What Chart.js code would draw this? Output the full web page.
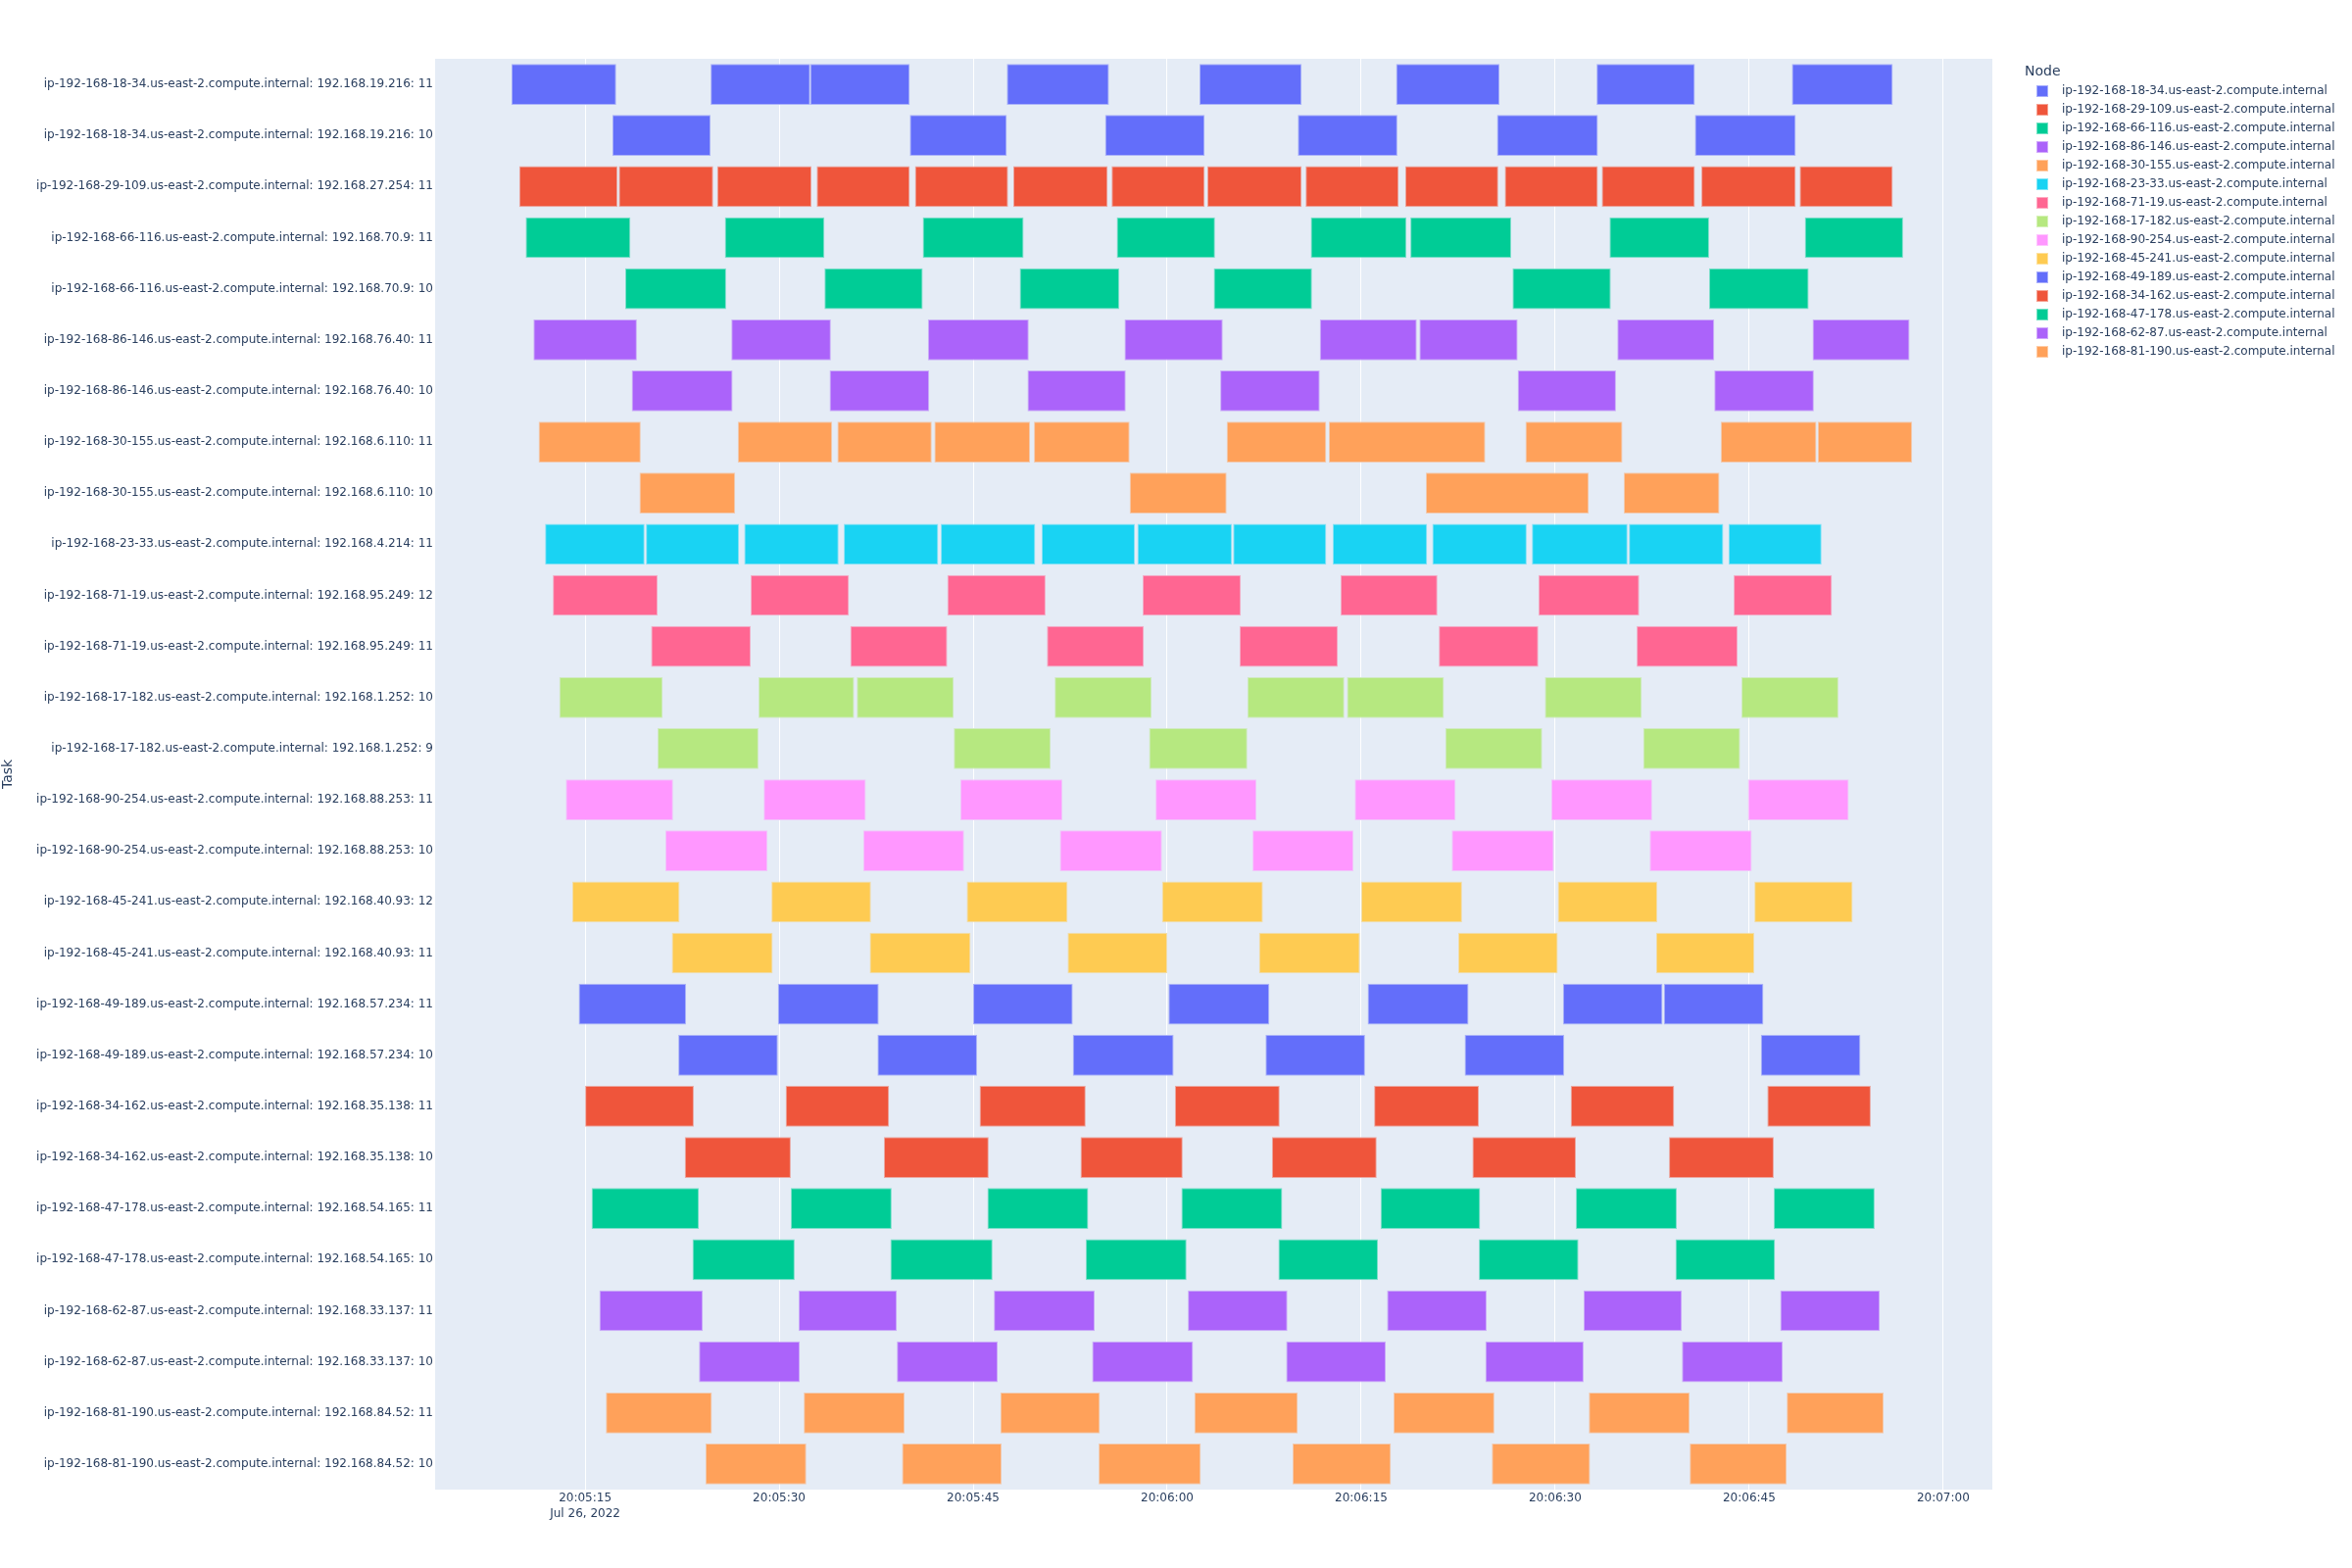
<!DOCTYPE html>
<html>
<head>
<meta charset="utf-8">
<script src="https://cdn.jsdelivr.net/npm/chart.js@4.4.1/dist/chart.umd.min.js"></script>
<style>
  html, body { margin: 0; padding: 0; background: #ffffff; }
  #wrap { width: 2400px; height: 1600px; }
</style>
</head>
<body>
<div id="wrap"><canvas id="c" width="2400" height="1600"></canvas></div>
<script>
// ---------------- data ----------------
const dateLabel = 'Jul 26, 2022';
const legendTitle = 'Node';
const yTitle = 'Task';
const xRange = ['20:05:03.4', '20:07:03.8'];
const tickLabels = ['20:05:15', '20:05:30', '20:05:45', '20:06:00', '20:06:15', '20:06:30', '20:06:45', '20:07:00'];

const nodes = [
  'ip-192-168-18-34.us-east-2.compute.internal',
  'ip-192-168-29-109.us-east-2.compute.internal',
  'ip-192-168-66-116.us-east-2.compute.internal',
  'ip-192-168-86-146.us-east-2.compute.internal',
  'ip-192-168-30-155.us-east-2.compute.internal',
  'ip-192-168-23-33.us-east-2.compute.internal',
  'ip-192-168-71-19.us-east-2.compute.internal',
  'ip-192-168-17-182.us-east-2.compute.internal',
  'ip-192-168-90-254.us-east-2.compute.internal',
  'ip-192-168-45-241.us-east-2.compute.internal',
  'ip-192-168-49-189.us-east-2.compute.internal',
  'ip-192-168-34-162.us-east-2.compute.internal',
  'ip-192-168-47-178.us-east-2.compute.internal',
  'ip-192-168-62-87.us-east-2.compute.internal',
  'ip-192-168-81-190.us-east-2.compute.internal'
];

const tasks = [
  'ip-192-168-18-34.us-east-2.compute.internal: 192.168.19.216: 11',
  'ip-192-168-18-34.us-east-2.compute.internal: 192.168.19.216: 10',
  'ip-192-168-29-109.us-east-2.compute.internal: 192.168.27.254: 11',
  'ip-192-168-66-116.us-east-2.compute.internal: 192.168.70.9: 11',
  'ip-192-168-66-116.us-east-2.compute.internal: 192.168.70.9: 10',
  'ip-192-168-86-146.us-east-2.compute.internal: 192.168.76.40: 11',
  'ip-192-168-86-146.us-east-2.compute.internal: 192.168.76.40: 10',
  'ip-192-168-30-155.us-east-2.compute.internal: 192.168.6.110: 11',
  'ip-192-168-30-155.us-east-2.compute.internal: 192.168.6.110: 10',
  'ip-192-168-23-33.us-east-2.compute.internal: 192.168.4.214: 11',
  'ip-192-168-71-19.us-east-2.compute.internal: 192.168.95.249: 12',
  'ip-192-168-71-19.us-east-2.compute.internal: 192.168.95.249: 11',
  'ip-192-168-17-182.us-east-2.compute.internal: 192.168.1.252: 10',
  'ip-192-168-17-182.us-east-2.compute.internal: 192.168.1.252: 9',
  'ip-192-168-90-254.us-east-2.compute.internal: 192.168.88.253: 11',
  'ip-192-168-90-254.us-east-2.compute.internal: 192.168.88.253: 10',
  'ip-192-168-45-241.us-east-2.compute.internal: 192.168.40.93: 12',
  'ip-192-168-45-241.us-east-2.compute.internal: 192.168.40.93: 11',
  'ip-192-168-49-189.us-east-2.compute.internal: 192.168.57.234: 11',
  'ip-192-168-49-189.us-east-2.compute.internal: 192.168.57.234: 10',
  'ip-192-168-34-162.us-east-2.compute.internal: 192.168.35.138: 11',
  'ip-192-168-34-162.us-east-2.compute.internal: 192.168.35.138: 10',
  'ip-192-168-47-178.us-east-2.compute.internal: 192.168.54.165: 11',
  'ip-192-168-47-178.us-east-2.compute.internal: 192.168.54.165: 10',
  'ip-192-168-62-87.us-east-2.compute.internal: 192.168.33.137: 11',
  'ip-192-168-62-87.us-east-2.compute.internal: 192.168.33.137: 10',
  'ip-192-168-81-190.us-east-2.compute.internal: 192.168.84.52: 11',
  'ip-192-168-81-190.us-east-2.compute.internal: 192.168.84.52: 10'
];

// [start, finish] of every bar, one array per task (same order as tasks)
const b01 = [['20:05:09.3','20:05:17.4'],['20:05:24.7','20:05:32.4'],['20:05:32.4','20:05:40.1'],['20:05:47.6','20:05:55.5'],['20:06:02.5','20:06:10.4'],['20:06:17.7','20:06:25.7'],['20:06:33.2','20:06:40.8'],['20:06:48.3','20:06:56.1']];
const b02 = [['20:05:17.1','20:05:24.7'],['20:05:40.1','20:05:47.6'],['20:05:55.2','20:06:02.9'],['20:06:10.1','20:06:17.8'],['20:06:25.5','20:06:33.3'],['20:06:40.8','20:06:48.6']];
const b03 = [['20:05:09.9','20:05:17.5'],['20:05:17.6','20:05:24.9'],['20:05:25.2','20:05:32.5'],['20:05:32.9','20:05:40.1'],['20:05:40.5','20:05:47.7'],['20:05:48.1','20:05:55.4'],['20:05:55.7','20:06:02.9'],['20:06:03.1','20:06:10.4'],['20:06:10.7','20:06:17.9'],['20:06:18.4','20:06:25.6'],['20:06:26.1','20:06:33.3'],['20:06:33.6','20:06:40.8'],['20:06:41.3','20:06:48.6'],['20:06:48.9','20:06:56.1']];
const b04 = [['20:05:10.4','20:05:18.5'],['20:05:25.8','20:05:33.5'],['20:05:41.1','20:05:48.9'],['20:05:56.1','20:06:03.7'],['20:06:11.1','20:06:18.5'],['20:06:18.8','20:06:26.6'],['20:06:34.2','20:06:41.9'],['20:06:49.3','20:06:56.9']];
const b05 = [['20:05:18.1','20:05:25.9'],['20:05:33.5','20:05:41.1'],['20:05:48.6','20:05:56.3'],['20:06:03.6','20:06:11.2'],['20:06:26.7','20:06:34.3'],['20:06:41.9','20:06:49.6']];
const b06 = [['20:05:11.0','20:05:19.0'],['20:05:26.3','20:05:34.0'],['20:05:41.5','20:05:49.3'],['20:05:56.7','20:06:04.3'],['20:06:11.8','20:06:19.3'],['20:06:19.5','20:06:27.1'],['20:06:34.8','20:06:42.3'],['20:06:49.9','20:06:57.4']];
const b07 = [['20:05:18.6','20:05:26.4'],['20:05:33.9','20:05:41.6'],['20:05:49.2','20:05:56.8'],['20:06:04.1','20:06:11.8'],['20:06:27.1','20:06:34.7'],['20:06:42.3','20:06:50.0']];
const b08 = [['20:05:11.4','20:05:19.3'],['20:05:26.8','20:05:34.1'],['20:05:34.5','20:05:41.8'],['20:05:42.0','20:05:49.4'],['20:05:49.7','20:05:57.1'],['20:06:04.6','20:06:12.3'],['20:06:12.5','20:06:24.6'],['20:06:27.7','20:06:35.2'],['20:06:42.8','20:06:50.2'],['20:06:50.3','20:06:57.6']];
const b09 = [['20:05:19.2','20:05:26.6'],['20:05:57.1','20:06:04.6'],['20:06:20.0','20:06:32.6'],['20:06:35.3','20:06:42.7']];
const b10 = [['20:05:11.9','20:05:19.6'],['20:05:19.7','20:05:26.9'],['20:05:27.3','20:05:34.6'],['20:05:35.0','20:05:42.3'],['20:05:42.5','20:05:49.8'],['20:05:50.3','20:05:57.5'],['20:05:57.7','20:06:05.0'],['20:06:05.1','20:06:12.3'],['20:06:12.8','20:06:20.1'],['20:06:20.5','20:06:27.8'],['20:06:28.2','20:06:35.6'],['20:06:35.7','20:06:43.0'],['20:06:43.4','20:06:50.6']];
const b11 = [['20:05:12.5','20:05:20.6'],['20:05:27.8','20:05:35.4'],['20:05:43.0','20:05:50.6'],['20:05:58.1','20:06:05.7'],['20:06:13.4','20:06:20.9'],['20:06:28.7','20:06:36.5'],['20:06:43.8','20:06:51.4']];
const b12 = [['20:05:20.1','20:05:27.8'],['20:05:35.5','20:05:43.0'],['20:05:50.7','20:05:58.2'],['20:06:05.6','20:06:13.2'],['20:06:21.0','20:06:28.7'],['20:06:36.3','20:06:44.1']];
const b13 = [['20:05:13.0','20:05:21.0'],['20:05:28.4','20:05:35.8'],['20:05:36.0','20:05:43.5'],['20:05:51.3','20:05:58.8'],['20:06:06.2','20:06:13.7'],['20:06:13.9','20:06:21.4'],['20:06:29.2','20:06:36.7'],['20:06:44.4','20:06:51.9']];
const b14 = [['20:05:20.6','20:05:28.4'],['20:05:43.5','20:05:51.0'],['20:05:58.6','20:06:06.2'],['20:06:21.5','20:06:29.0'],['20:06:36.8','20:06:44.3']];
const b15 = [['20:05:13.5','20:05:21.8'],['20:05:28.8','20:05:36.7'],['20:05:44.0','20:05:51.9'],['20:05:59.1','20:06:06.9'],['20:06:14.5','20:06:22.3'],['20:06:29.7','20:06:37.5'],['20:06:44.9','20:06:52.7']];
const b16 = [['20:05:21.2','20:05:29.1'],['20:05:36.5','20:05:44.3'],['20:05:51.7','20:05:59.6'],['20:06:06.6','20:06:14.4'],['20:06:22.0','20:06:29.9'],['20:06:37.3','20:06:45.2']];
const b17 = [['20:05:14.0','20:05:22.3'],['20:05:29.4','20:05:37.1'],['20:05:44.5','20:05:52.3'],['20:05:59.6','20:06:07.4'],['20:06:15.0','20:06:22.8'],['20:06:30.2','20:06:37.9'],['20:06:45.4','20:06:53.0']];
const b18 = [['20:05:21.7','20:05:29.5'],['20:05:37.0','20:05:44.8'],['20:05:52.3','20:06:00.0'],['20:06:07.1','20:06:14.9'],['20:06:22.5','20:06:30.2'],['20:06:37.8','20:06:45.4']];
const b19 = [['20:05:14.5','20:05:22.8'],['20:05:29.9','20:05:37.7'],['20:05:45.0','20:05:52.7'],['20:06:00.1','20:06:07.9'],['20:06:15.5','20:06:23.3'],['20:06:30.6','20:06:38.3'],['20:06:38.4','20:06:46.1']];
const b20 = [['20:05:22.2','20:05:29.9'],['20:05:37.6','20:05:45.3'],['20:05:52.7','20:06:00.5'],['20:06:07.6','20:06:15.3'],['20:06:23.0','20:06:30.7'],['20:06:45.9','20:06:53.6']];
const b21 = [['20:05:15.0','20:05:23.4'],['20:05:30.5','20:05:38.5'],['20:05:45.5','20:05:53.7'],['20:06:00.6','20:06:08.7'],['20:06:16.0','20:06:24.1'],['20:06:31.2','20:06:39.2'],['20:06:46.4','20:06:54.4']];
const b22 = [['20:05:22.7','20:05:30.9'],['20:05:38.1','20:05:46.2'],['20:05:53.3','20:06:01.2'],['20:06:08.1','20:06:16.2'],['20:06:23.6','20:06:31.6'],['20:06:38.8','20:06:46.9']];
const b23 = [['20:05:15.5','20:05:23.8'],['20:05:30.9','20:05:38.7'],['20:05:46.1','20:05:53.9'],['20:06:01.1','20:06:08.9'],['20:06:16.5','20:06:24.2'],['20:06:31.6','20:06:39.4'],['20:06:46.9','20:06:54.7']];
const b24 = [['20:05:23.3','20:05:31.2'],['20:05:38.6','20:05:46.5'],['20:05:53.7','20:06:01.5'],['20:06:08.6','20:06:16.3'],['20:06:24.1','20:06:31.8'],['20:06:39.3','20:06:47.0']];
const b25 = [['20:05:16.1','20:05:24.1'],['20:05:31.5','20:05:39.1'],['20:05:46.6','20:05:54.4'],['20:06:01.6','20:06:09.3'],['20:06:17.0','20:06:24.7'],['20:06:32.2','20:06:39.8'],['20:06:47.4','20:06:55.1']];
const b26 = [['20:05:23.8','20:05:31.6'],['20:05:39.1','20:05:46.9'],['20:05:54.2','20:06:02.0'],['20:06:09.2','20:06:16.9'],['20:06:24.6','20:06:32.2'],['20:06:39.8','20:06:47.6']];
const b27 = [['20:05:16.6','20:05:24.8'],['20:05:31.9','20:05:39.7'],['20:05:47.1','20:05:54.8'],['20:06:02.1','20:06:10.1'],['20:06:17.5','20:06:25.3'],['20:06:32.6','20:06:40.4'],['20:06:47.9','20:06:55.4']];
const b28 = [['20:05:24.3','20:05:32.1'],['20:05:39.5','20:05:47.2'],['20:05:54.7','20:06:02.6'],['20:06:09.7','20:06:17.3'],['20:06:25.1','20:06:32.7'],['20:06:40.4','20:06:47.9']];

const taskBars = [b01,b02,b03,b04,b05,b06,b07,b08,b09,b10,b11,b12,b13,b14,b15,b16,b17,b18,b19,b20,b21,b22,b23,b24,b25,b26,b27,b28];

// ---------------- styling ----------------
const palette = ['#636efa','#EF553B','#00cc96','#ab63fa','#FFA15A','#19d3f3','#FF6692','#B6E880','#FF97FF','#FECB52'];
const FONT = '"DejaVu Sans", "Open Sans", Verdana, Arial, sans-serif';
const TEXT = '#2a3f5f';
const PLOT_BG = '#E5ECF6';

function secs(s) {
  const p = s.split(':');
  return (+p[0]) * 3600 + (+p[1]) * 60 + parseFloat(p[2]);
}
function fmt(v) {
  const t = Math.round(v);
  const h = Math.floor(t / 3600), m = Math.floor((t % 3600) / 60), s = t % 60;
  const z = n => String(n).padStart(2, '0');
  return z(h) + ':' + z(m) + ':' + z(s);
}
function hexToRgb(h) {
  h = h.replace('#', '');
  return [parseInt(h.substr(0, 2), 16), parseInt(h.substr(2, 2), 16), parseInt(h.substr(4, 2), 16)];
}
function mix(c1, c2, w) {
  const a = hexToRgb(c1), b = hexToRgb(c2);
  const r = a.map((v, i) => Math.round(v * (1 - w) + b[i] * w));
  return 'rgb(' + r.join(',') + ')';
}
function swatch(color) {
  const cv = document.createElement('canvas');
  cv.width = 25; cv.height = 12;
  const c = cv.getContext('2d');
  c.fillStyle = color;
  c.fillRect(5, 0, 12, 12);
  c.strokeStyle = mix(color, '#ffffff', 0.45);
  c.lineWidth = 1;
  c.strokeRect(5.5, 0.5, 11, 11);
  return cv;
}

const datasets = nodes.map((node, ni) => {
  const color = palette[ni % palette.length];
  const data = [];
  tasks.forEach((task, ti) => {
    if (task.split(':')[0] === node) {
      taskBars[ti].forEach(b => data.push({ x: [secs(b[0]), secs(b[1])], y: task }));
    }
  });
  return {
    label: node,
    data: data,
    backgroundColor: color,
    borderColor: mix(color, PLOT_BG, 0.55),
    borderWidth: 1,
    borderSkipped: false,
    grouped: false,
    categoryPercentage: 0.8,
    barPercentage: 1.0
  };
});

const bgPlugin = {
  id: 'plotBg',
  beforeDraw(chart) {
    const { ctx, chartArea: a } = chart;
    ctx.save();
    ctx.fillStyle = '#ffffff';
    ctx.fillRect(0, 0, chart.width, chart.height);
    ctx.fillStyle = PLOT_BG;
    ctx.fillRect(a.left, a.top, a.right - a.left, a.bottom - a.top);
    ctx.restore();
  }
};

const LEGEND_W = 367;
const legendPlace = {
  id: 'legendPlace',
  afterInit(chart) {
    const lg = chart.legend;
    if (!lg) return;
    const orig = lg.fit.bind(lg);
    lg.fit = function () { orig(); this.width = LEGEND_W; };
  },
  afterLayout(chart) {
    const lg = chart.legend;
    if (!lg) return;
    lg.left = chart.chartArea.right + 33;
    lg.right = lg.left + LEGEND_W - 33;
  }
};

Chart.defaults.font.family = FONT;
Chart.defaults.color = TEXT;

new Chart(document.getElementById('c'), {
  type: 'bar',
  data: { labels: tasks, datasets: datasets },
  options: {
    indexAxis: 'y',
    responsive: false,
    animation: false,
    devicePixelRatio: 1,
    layout: { padding: { top: 60, left: 0, right: 0, bottom: 0 } },
    scales: {
      x: {
        type: 'linear',
        position: 'bottom',
        min: secs(xRange[0]),
        max: secs(xRange[1]),
        afterBuildTicks: s => { s.ticks = tickLabels.map(t => ({ value: secs(t) })); },
        afterFit: s => { s.height = 80; },
        ticks: {
          autoSkip: false,
          maxRotation: 0,
          padding: 0,
          color: TEXT,
          font: { family: FONT, size: 12, lineHeight: 1.4 },
          callback: (v, i) => i === 0 ? [fmt(v), dateLabel] : fmt(v)
        },
        grid: { color: '#ffffff', lineWidth: 1, drawTicks: false },
        border: { display: false }
      },
      y: {
        type: 'category',
        offset: true,
        afterFit: s => { s.width = 444; },
        ticks: { autoSkip: false, padding: 2, color: TEXT, font: { family: FONT, size: 12 } },
        grid: { display: false, drawTicks: false },
        border: { display: false },
        title: { display: true, text: yTitle, color: TEXT, font: { family: FONT, size: 14 }, padding: 0 }
      }
    },
    plugins: {
      tooltip: { enabled: false },
      legend: {
        position: 'right',
        align: 'start',
        title: {
          display: true, text: legendTitle, position: 'start', color: TEXT,
          font: { family: FONT, size: 14, lineHeight: 1 },
          padding: { top: 6, bottom: 0 }
        },
        labels: {
          usePointStyle: true,
          pointStyleWidth: 25,
          boxHeight: 12,
          padding: 7,
          color: TEXT,
          font: { family: FONT, size: 12 },
          generateLabels: chart => chart.data.datasets.map((ds, i) => ({
            text: ds.label,
            pointStyle: swatch(ds.backgroundColor),
            fillStyle: ds.backgroundColor,
            strokeStyle: ds.backgroundColor,
            lineWidth: 0,
            hidden: false,
            datasetIndex: i,
            fontColor: TEXT
          }))
        }
      }
    }
  },
  plugins: [bgPlugin, legendPlace]
});
</script>
</body>
</html>
